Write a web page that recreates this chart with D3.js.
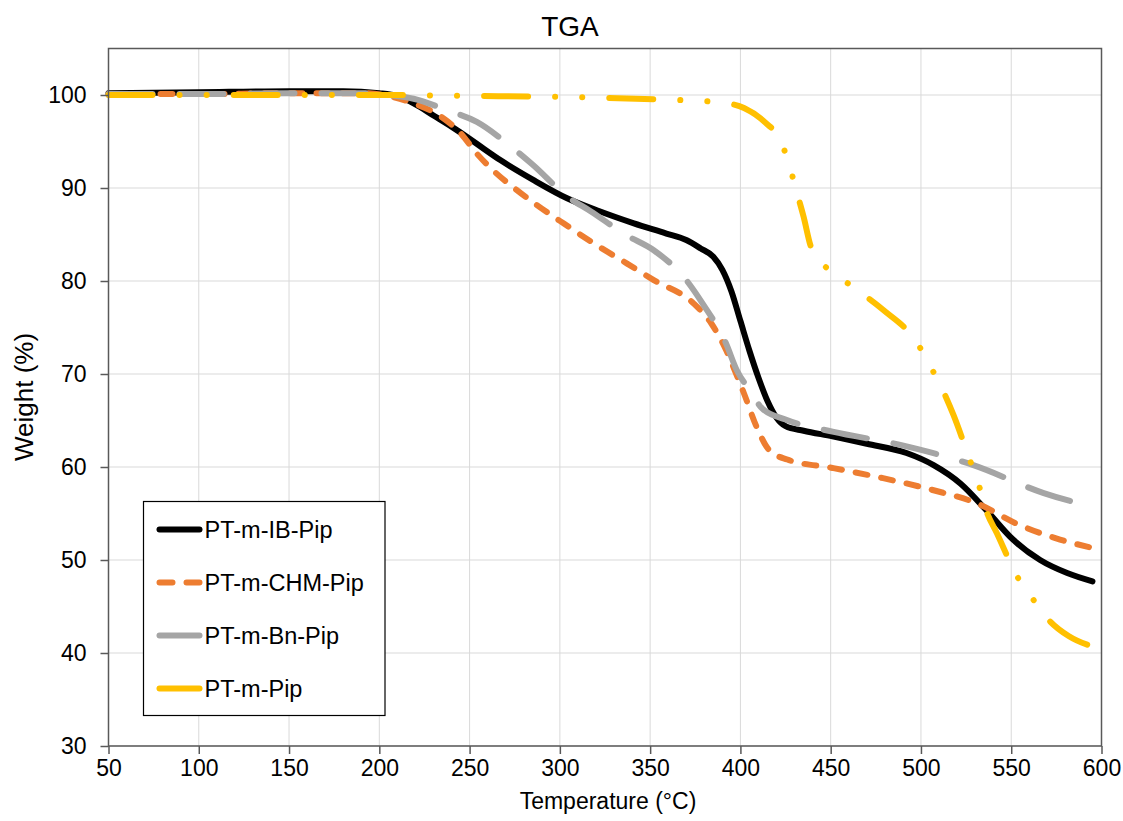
<!DOCTYPE html>
<html>
<head>
<meta charset="utf-8">
<title>TGA</title>
<style>
body { margin: 0; background: #fff; }
text { font-family: "Liberation Sans", Arial, sans-serif; fill: #000; }
.grid line { stroke: #d9d9d9; stroke-width: 1px; }
.axis path, .axis line { stroke: #595959; stroke-width: 1.5px; }
.axis text { font-size: 23px; fill: #000; }
path.series { fill: none; stroke-width: 6px; stroke-linecap: round; stroke-linejoin: round; }
</style>
</head>
<body>
<script src="https://cdn.jsdelivr.net/npm/d3@7"></script>
<script>

var width = 1123,
    height = 821;

var margin = {left: 108.5, right: 21.5, top: 48.5, bottom: 75};

// series data (temperature degC, weight %)
var seriesNames = ["PT-m-IB-Pip", "PT-m-CHM-Pip", "PT-m-Bn-Pip", "PT-m-Pip"];
var seriesColors = ["#000000", "#ED7D31", "#A5A5A5", "#FFC000"];
var seriesDash = [null, "12, 14", "44, 27", "44, 27, 0.1, 27, 0.1, 27"];
var legendDash = [null, "13, 14", null, null];

var ibPip = [
  [50, 100.2], [100, 100.3], [150, 100.4], [180, 100.4], [200, 100.2], [210, 99.9],
  [220, 99.0], [230, 97.8], [240, 96.6], [250, 95.3], [258, 94.2], [267, 93.0],
  [285, 90.9], [304, 88.9], [322, 87.5], [341, 86.2], [359, 85.1], [370, 84.4],
  [378, 83.5], [385, 82.6], [390, 81.2], [395, 78.9], [400, 75.7], [405, 72.5],
  [410, 69.6], [415, 67.1], [420, 65.3], [425, 64.4], [435, 63.9], [451, 63.3],
  [470, 62.5], [492, 61.5], [507, 60.2], [522, 58.2], [536, 55.4], [551, 52.2],
  [566, 50.0], [581, 48.6], [595, 47.7]
];

var chmPip = [
  [50, 100.1], [100, 100.1], [150, 100.2], [190, 100.2], [205, 99.9], [219, 99.1],
  [234, 97.7], [245, 95.9], [254, 93.7], [263, 91.9], [276, 89.8], [287, 88.2],
  [302, 86.2], [320, 83.9], [337, 81.9], [352, 80.1], [374, 77.6], [384, 75.4],
  [392, 72.6], [396, 70.8], [402, 67.9], [409, 64.3], [416, 61.8], [426, 60.8],
  [451, 59.9], [479, 58.8], [507, 57.5], [531, 56.1], [553, 53.9], [577, 52.2],
  [595, 51.3]
];

var bnPip = [
  [50, 100.1], [100, 100.1], [150, 100.2], [190, 100.2], [205, 100.0], [219, 99.6],
  [237, 98.4], [254, 97.1], [272, 94.6], [285, 92.5], [304, 89.1], [317, 87.5],
  [337, 84.9], [352, 83.3], [370, 80.1], [379, 77.6], [392, 73.3], [398, 70.4],
  [405, 68.3], [412, 66.3], [425, 65.1], [451, 63.8], [488, 62.4], [529, 60.2],
  [568, 57.2], [595, 55.7]
];

var mPip = [
  [50, 100.0], [100, 100.0], [150, 100.0], [200, 100.0], [250, 99.9], [300, 99.8],
  [359, 99.5], [374, 99.4], [389, 99.2], [402, 98.6], [414, 97.0], [422, 95.2],
  [427, 92.5], [431, 89.7], [435, 86.9], [439, 83.7], [444, 82.2], [455, 80.4],
  [467, 78.7], [479, 76.9], [498, 73.3], [505, 70.9], [512, 68.3], [518, 65.6],
  [527, 60.8], [532, 58.1], [536, 55.4], [542, 52.9], [554, 48.0], [562, 45.8],
  [571, 43.5], [582, 41.8], [595, 40.7]
];

var seriesData = [ibPip, chmPip, bnPip, mPip];

var xTicks = [50, 100, 150, 200, 250, 300, 350, 400, 450, 500, 550, 600];
var yTicks = [30, 40, 50, 60, 70, 80, 90, 100];

var svg = d3.select("body").append("svg")
    .attr("width", width)
    .attr("height", height);

var x = d3.scaleLinear()
    .domain([50, 600])
    .range([margin.left, width - margin.right]);

var y = d3.scaleLinear()
    .domain([30, 105])
    .range([height - margin.bottom, margin.top]);

// gridlines
svg.append("g")
    .attr("class", "grid")
    .selectAll("line.v")
    .data(xTicks)
    .enter().append("line")
    .attr("x1", function(d) { return x(d); })
    .attr("x2", function(d) { return x(d); })
    .attr("y1", y(30))
    .attr("y2", y(105));

svg.append("g")
    .attr("class", "grid")
    .selectAll("line.h")
    .data(yTicks)
    .enter().append("line")
    .attr("x1", x(50))
    .attr("x2", x(600))
    .attr("y1", function(d) { return y(d); })
    .attr("y2", function(d) { return y(d); });

// series
var line = d3.line()
    .x(function(d) { return x(d[0]); })
    .y(function(d) { return y(d[1]); })
    .curve(d3.curveMonotoneX);

svg.append("g")
    .selectAll("path")
    .data(seriesData)
    .enter().append("path")
    .attr("class", "series")
    .attr("d", line)
    .style("stroke", function(d, i) { return seriesColors[i]; })
    .attr("stroke-dasharray", function(d, i) { return seriesDash[i]; });

// plot border
svg.append("rect")
    .attr("x", x(50))
    .attr("y", y(105))
    .attr("width", x(600) - x(50))
    .attr("height", y(30) - y(105))
    .style("fill", "none")
    .style("stroke", "#595959")
    .style("stroke-width", 1.5);

// axes
var xAxis = svg.append("g")
    .attr("class", "axis")
    .attr("transform", "translate(0," + y(30) + ")")
    .call(d3.axisBottom(x).tickValues(xTicks).tickSize(8).tickPadding(6));

var yAxis = svg.append("g")
    .attr("class", "axis")
    .attr("transform", "translate(" + x(50) + ",0)")
    .call(d3.axisLeft(y).tickValues(yTicks).tickSize(8).tickPadding(14));

xAxis.select(".domain").remove();
yAxis.select(".domain").remove();

// titles
svg.append("text")
    .attr("x", 570)
    .attr("y", 36)
    .attr("text-anchor", "middle")
    .style("font-size", "28px")
    .text("TGA");

svg.append("text")
    .attr("x", 608)
    .attr("y", 809)
    .attr("text-anchor", "middle")
    .style("font-size", "23px")
    .text("Temperature (°C)");

svg.append("text")
    .attr("transform", "translate(33,397) rotate(-90)")
    .attr("text-anchor", "middle")
    .style("font-size", "26px")
    .text("Weight (%)");

// legend
var legend = svg.append("g")
    .attr("transform", "translate(143.5,501.5)");

legend.append("rect")
    .attr("width", 241.5)
    .attr("height", 214)
    .style("fill", "#fff")
    .style("stroke", "#000")
    .style("stroke-width", 1.2);

var entry = legend.selectAll("g.entry")
    .data(seriesNames)
    .enter().append("g")
    .attr("class", "entry")
    .attr("transform", function(d, i) { return "translate(0," + (28 + i * 53) + ")"; });

entry.append("line")
    .attr("x1", 16)
    .attr("x2", 56)
    .style("stroke", function(d, i) { return seriesColors[i]; })
    .style("stroke-width", 6)
    .style("stroke-linecap", "round")
    .attr("stroke-dasharray", function(d, i) { return legendDash[i]; });

entry.append("text")
    .attr("x", 61)
    .attr("y", 8)
    .style("font-size", "23.5px")
    .text(function(d) { return d; });

</script>
</body>
</html>
